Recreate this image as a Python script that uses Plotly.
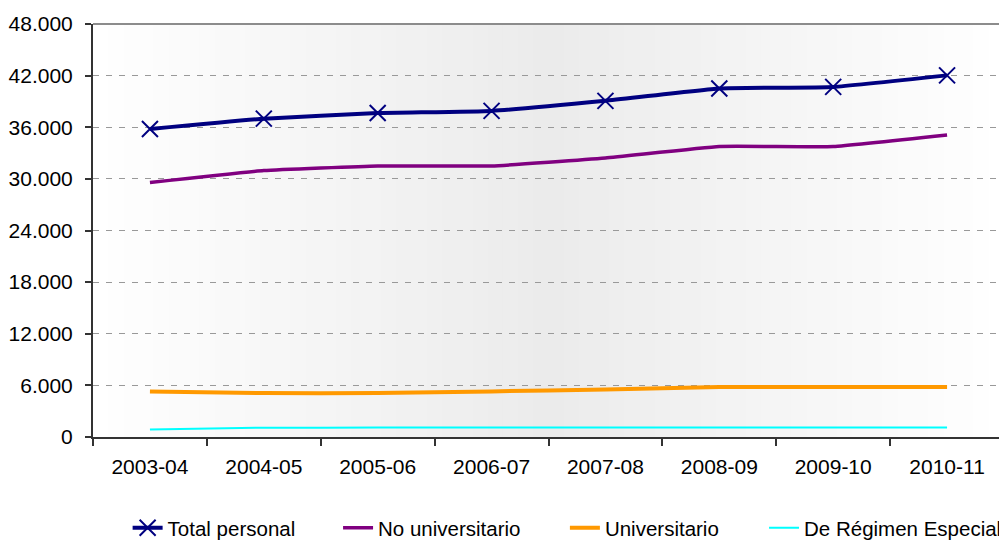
import plotly.graph_objects as go

cursos = ['2003-04', '2004-05', '2005-06', '2006-07', '2007-08', '2008-09', '2009-10', '2010-11']
total_personal = [35800, 37000, 37650, 37900, 39070, 40500, 40690, 42030]
no_universitario = [29570, 30960, 31500, 31500, 32420, 33760, 33760, 35100]
universitario = [5300, 5100, 5100, 5300, 5530, 5800, 5800, 5800]
regimen_especial = [870, 1080, 1090, 1090, 1090, 1090, 1100, 1100]

fuente = 'Arial, Liberation Sans, sans-serif'

fig = go.Figure()

# Fondo degradado del área de trazado (blanco - gris - blanco)
n_franjas = 60
for k in range(n_franjas):
    t = (k + 0.5) / n_franjas
    g = int(round(255 - 20 * (1 - abs(2 * t - 1))))
    fig.add_shape(type='rect', xref='x domain', yref='y domain',
                  x0=k / n_franjas, x1=(k + 1) / n_franjas + 0.001, y0=0, y1=1,
                  fillcolor=f'rgb({g},{g},{g})', line_width=0, layer='below')

fig.add_trace(go.Scatter(x=cursos, y=total_personal, name='Total personal',
                         mode='lines+markers', legend='legend',
                         line=dict(color='#000080', width=4, shape='spline', smoothing=0.35),
                         marker=dict(symbol='x-thin', size=16, line=dict(color='#000080', width=2))))
fig.add_trace(go.Scatter(x=cursos, y=no_universitario, name='No universitario',
                         mode='lines', legend='legend2',
                         line=dict(color='#800080', width=3.5, shape='spline', smoothing=0.35)))
fig.add_trace(go.Scatter(x=cursos, y=universitario, name='Universitario',
                         mode='lines', legend='legend3',
                         line=dict(color='#FF9900', width=4, shape='spline', smoothing=0.35)))
fig.add_trace(go.Scatter(x=cursos, y=regimen_especial, name='De Régimen Especial',
                         mode='lines', legend='legend4',
                         line=dict(color='#00FFFF', width=2, shape='spline', smoothing=0.35)))

# Bordes superior y derecho del área de trazado
fig.add_shape(type='line', xref='x domain', yref='y domain', x0=0, x1=1, y0=1, y1=1,
              line=dict(color='#8c8c8c', width=2))
fig.add_shape(type='line', xref='x domain', yref='y domain', x0=1, x1=1, y0=0, y1=1,
              line=dict(color='#8c8c8c', width=2))

def leyenda(x):
    return dict(orientation='h', x=x, y=-0.22, xanchor='left', yanchor='middle',
                font=dict(size=20.5), bgcolor='rgba(0,0,0,0)')

fig.update_layout(
    width=999, height=532,
    margin=dict(l=85, r=3, t=16, b=103, autoexpand=False),
    paper_bgcolor='white',
    plot_bgcolor='white',
    separators=',.',
    font=dict(family=fuente, size=21, color='black'),
    showlegend=True,
    legend=leyenda(0.038),
    legend2=leyenda(0.269),
    legend3=leyenda(0.518),
    legend4=leyenda(0.7366),
    xaxis=dict(type='category', range=[-0.5, 7.5], tickson='boundaries',
               ticks='outside', ticklen=7, tickcolor='#333', tickwidth=1.5,
               showline=True, linecolor='#333', linewidth=2, showgrid=False,
               ticklabelstandoff=10, tickfont=dict(size=21)),
    yaxis=dict(range=[0, 48000], dtick=6000, tickformat=',d',
               ticks='outside', ticklen=6, tickcolor='#333', tickwidth=1.5,
               showline=True, linecolor='#333', linewidth=2,
               showgrid=True, gridcolor='#999999', gridwidth=1, griddash='6px,7px',
               zeroline=False, ticklabelstandoff=8, tickfont=dict(size=21)),
)

fig.write_html("out.html")
